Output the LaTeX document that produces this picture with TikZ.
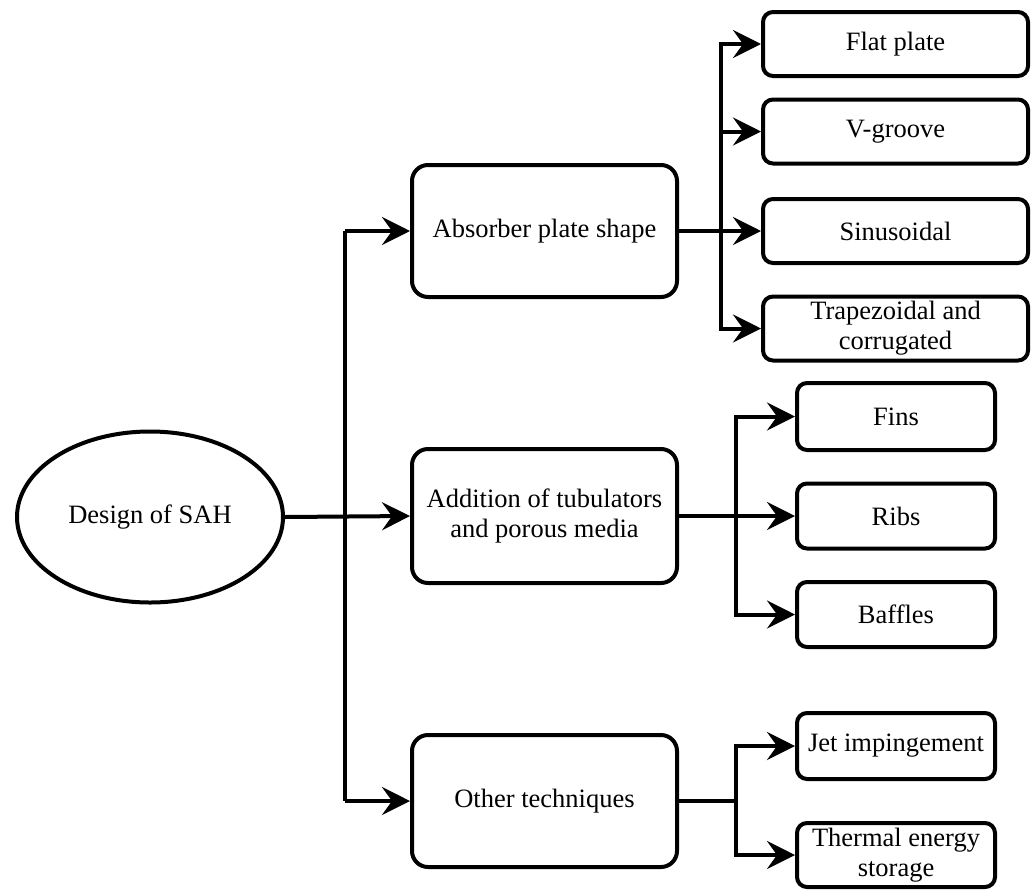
\documentclass[tikz,border=0pt]{standalone}
\usepackage{fontspec}
\setmainfont{Liberation Serif}
\usetikzlibrary{shapes.geometric,arrows.meta}
\begin{document}
\begin{tikzpicture}[x=1pt,y=-1pt,
  every node/.style={font=\fontsize{26.5pt}{30pt}\selectfont, align=center, inner sep=0pt},
  bigbox/.style={draw, line width=4pt, rounded corners=16pt, minimum width=265pt, minimum height=132pt},
  subbox/.style={draw, line width=4pt, rounded corners=10pt, minimum width=265pt, minimum height=64pt},
  smallbox/.style={draw, line width=4pt, rounded corners=10pt, minimum width=198pt, minimum height=65pt},
  conn/.style={line width=4pt},
  arr/.style={line width=4pt, -{Stealth[length=28pt,width=28pt,inset=10pt]}}]
\useasboundingbox (0,0) rectangle (1035,889);
% root
\node[draw, ellipse, line width=4pt, minimum width=266pt, minimum height=171pt] (sah) at (150,517) {Design of SAH};
% middle column
\node[bigbox] (abs) at (544.5,231) {Absorber plate shape};
\node[bigbox, minimum height=134pt] (add) at (544.5,516) {Addition of tubulators\\and porous media};
\node[bigbox] (oth) at (544.5,801) {Other techniques};
% absorber sub-items
\node[subbox] (flat) at (895.5,44) {Flat plate};
\node[subbox] (vg) at (895.5,131.5) {V-groove};
\node[subbox] (sin) at (895.5,231) {Sinusoidal};
\node[subbox] (trap) at (895.5,328.5) {Trapezoidal and\\corrugated};
% addition sub-items
\node[smallbox, minimum height=67pt] (fins) at (896,416.5) {Fins};
\node[smallbox] (ribs) at (896,516) {Ribs};
\node[smallbox] (baf) at (896,614.5) {Baffles};
% other sub-items
\node[smallbox, minimum height=66pt] (jet) at (896,746) {Jet impingement};
\node[smallbox, minimum height=64pt] (th) at (896,855) {Thermal energy\\storage};
% trunk
\coordinate (t1) at (345,231);
\coordinate (t2) at (345,801);
\draw[conn] (t1) -- (t2);
\draw[arr] (sah.east) -- (add.west);
\draw[arr] (t1) -- (abs.west);
\draw[arr] (t2) -- (oth.west);
% absorber branch
\coordinate (bA) at (721,231);
\draw[arr] (abs.east) -- (sin.west);
\draw[arr] (bA) |- (flat.west);
\draw[arr] (bA) |- (vg.west);
\draw[arr] (bA) |- (trap.west);
% addition branch
\coordinate (cA) at (736,516);
\draw[arr] (add.east) -- (ribs.west);
\draw[arr] (cA) |- (fins.west);
\draw[arr] (cA) |- (baf.west);
% other branch
\coordinate (dA) at (736,801);
\draw[conn] (oth.east) -- (dA);
\draw[arr] (dA) |- (jet.west);
\draw[arr] (dA) |- (th.west);
\end{tikzpicture}
\end{document}
